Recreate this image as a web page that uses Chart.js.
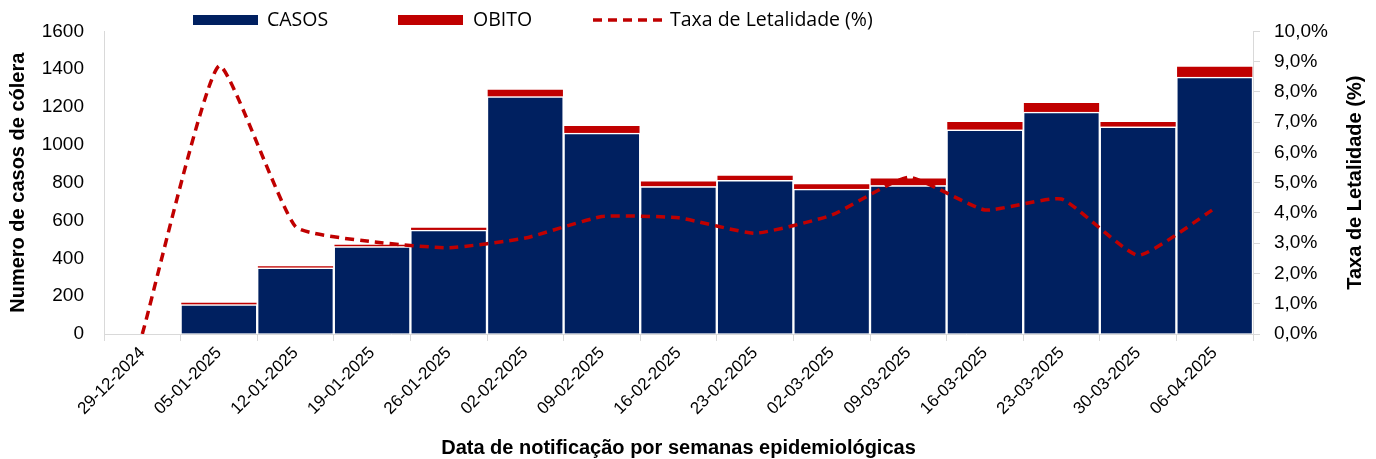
<!DOCTYPE html>
<html>
<head>
<meta charset="utf-8">
<script src="https://cdn.jsdelivr.net/npm/chart.js@4.4.1/dist/chart.umd.min.js"></script>
<style>
  html, body { margin: 0; padding: 0; background: #fff; }
  #wrap { width: 1376px; height: 459px; position: relative; }
</style>
</head>
<body>
<div id="wrap"><canvas id="chart"></canvas></div>
<script>
const weeks = [
  "29-12-2024", "05-01-2025", "12-01-2025", "19-01-2025", "26-01-2025",
  "02-02-2025", "09-02-2025", "16-02-2025", "23-02-2025", "02-03-2025",
  "09-03-2025", "16-03-2025", "23-03-2025", "30-03-2025", "06-04-2025"
];
const casos = [0, 155, 350, 462, 550, 1255, 1063, 780, 813, 766, 785, 1080, 1173, 1096, 1359];
const obitos = [0, 14, 12, 14, 16, 40, 41, 30, 27, 30, 41, 44, 52, 28, 57];
const taxa = [0, 8.86, 3.55, 3.05, 2.85, 3.17, 3.88, 3.84, 3.33, 3.93, 5.18, 4.1, 4.46, 2.6, 4.15];

const navy = "#002060";
const red = "#C00000";
const axisGrey = "#d9d9d9";
const fontFamily = "'Liberation Sans', Arial, sans-serif";
const legendFont = "'Open Sans', 'Liberation Sans', sans-serif";

function pct(value) {
  return Number(value).toFixed(1).replace(".", ",") + "%";
}

// titles and legend drawn by hand so they sit where the original puts them
const extras = {
  id: "extras",
  afterDraw(chart) {
    const { ctx, chartArea } = chart;
    const midX = (chartArea.left + chartArea.right) / 2;
    const midY = (chartArea.top + chartArea.bottom) / 2;
    ctx.save();
    ctx.fillStyle = "#000";
    ctx.font = "bold 20px " + fontFamily;
    ctx.textAlign = "center";
    ctx.textBaseline = "middle";

    ctx.save();
    ctx.translate(18, midY);
    ctx.rotate(-Math.PI / 2);
    ctx.fillText("Numero de casos de cólera", 0, 0);
    ctx.restore();

    ctx.save();
    ctx.translate(1355, midY);
    ctx.rotate(-Math.PI / 2);
    ctx.fillText("Taxa de Letalidade (%)", 0, 0);
    ctx.restore();

    ctx.fillText("Data de notificação por semanas epidemiológicas", midX, 448);

    // legend
    ctx.font = "19.5px " + legendFont;
    ctx.textAlign = "left";
    ctx.fillStyle = navy;
    ctx.fillRect(193, 15, 65, 10);
    ctx.fillStyle = red;
    ctx.fillRect(398, 15, 65, 10);
    ctx.strokeStyle = red;
    ctx.lineWidth = 3.5;
    ctx.setLineDash([9, 6]);
    ctx.beginPath();
    ctx.moveTo(593, 20);
    ctx.lineTo(664, 20);
    ctx.stroke();
    ctx.setLineDash([]);
    ctx.fillStyle = "#000";
    ctx.fillText("CASOS", 267, 20);
    ctx.fillText("OBITO", 473, 20);
    ctx.fillText("Taxa de Letalidade (%)", 670, 20);
    ctx.restore();
  }
};

const ctx = document.getElementById("chart").getContext("2d");

new Chart(ctx, {
  type: "bar",
  data: {
    labels: weeks,
    datasets: [
      {
        type: "line",
        label: "Taxa de Letalidade (%)",
        data: taxa,
        yAxisID: "y1",
        borderColor: red,
        borderWidth: 3.5,
        borderDash: [9, 6],
        tension: 0.15,
        pointRadius: 0,
        fill: false,
        order: 0,
      },
      {
        label: "CASOS",
        data: casos,
        yAxisID: "y",
        stack: "a",
        backgroundColor: navy,
        borderColor: "#fff",
        borderWidth: 1.5,
        barPercentage: 1,
        categoryPercentage: 1,
        order: 1,
      },
      {
        label: "OBITO",
        data: obitos,
        yAxisID: "y",
        stack: "a",
        backgroundColor: red,
        borderColor: "#fff",
        borderWidth: 1,
        barPercentage: 1,
        categoryPercentage: 1,
        order: 1,
      },
    ],
  },
  options: {
    responsive: true,
    maintainAspectRatio: false,
    animation: false,
    layout: { padding: { top: 27, left: 0, right: 0, bottom: 0 } },
    plugins: {
      legend: { display: false },
      tooltip: { enabled: false },
    },
    scales: {
      x: {
        stacked: true,
        grid: { offset: true, drawOnChartArea: false, tickLength: 7, color: axisGrey },
        border: { color: axisGrey },
        ticks: {
          color: "#000",
          font: { family: fontFamily, size: 17 },
          maxRotation: 45,
          minRotation: 45,
          padding: 2,
          autoSkip: false,
        },
        afterFit(scale) { scale.height = 125; },
      },
      y: {
        position: "left",
        stacked: true,
        min: 0,
        max: 1600,
        grid: { drawOnChartArea: false, drawTicks: false, color: axisGrey },
        border: { color: axisGrey },
        ticks: {
          stepSize: 200,
          color: "#000",
          font: { family: fontFamily, size: 19 },
          padding: 20,
          callback: (value) => String(value),
        },
        afterFit(scale) { scale.width = 104; },
      },
      y1: {
        position: "right",
        min: 0,
        max: 10,
        grid: { drawOnChartArea: false, tickLength: 7, color: axisGrey },
        border: { color: axisGrey },
        ticks: {
          stepSize: 1,
          color: "#000",
          font: { family: fontFamily, size: 19 },
          padding: 14,
          callback: (value) => pct(value),
        },
        afterFit(scale) { scale.width = 123; },
      },
    },
  },
  plugins: [extras],
});
</script>
</body>
</html>
